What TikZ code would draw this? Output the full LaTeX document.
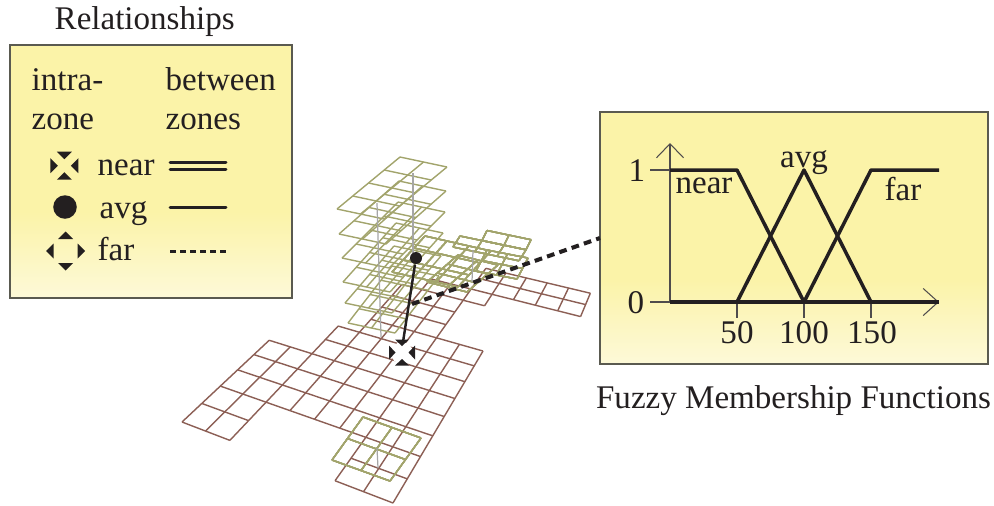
\documentclass[tikz,border=0pt]{standalone}
\usepackage{fontspec}
\setmainfont{Liberation Serif}
\usetikzlibrary{arrows.meta}
\definecolor{panelyellow}{HTML}{FBF3A8}
\definecolor{panelpale}{HTML}{FDF9D8}
\definecolor{panelborder}{HTML}{5A5A50}
\definecolor{floorbrown}{HTML}{8C5F55}
\definecolor{zonegreen}{HTML}{A2A46C}
\definecolor{inkblack}{HTML}{231F20}
\pgfdeclareverticalshading{panelfade}{100bp}{color(0bp)=(panelpale); color(25bp)=(panelpale); color(42bp)=(panelyellow); color(75bp)=(panelyellow); color(100bp)=(panelyellow)}
\tikzset{
  declare function={
    hd(\i,\j)=1-0.014956*\i+0.035238*\j;
    hx(\i,\j)=(20.4975*\i+26.924*\j+182)/hd(\i,\j);
    hy(\i,\j)=(2.6025*\i-4.359*\j+422)/hd(\i,\j);
  },
  panelbox/.style={rectangle, draw=panelborder, line width=0.5pt, inner sep=0pt, shade, shading=panelfade, shading angle=0},
  tag/.style={inner sep=0pt, text=inkblack, font=\fontsize{9.4}{11}\selectfont},
  floorline/.style={floorbrown, line width=0.4pt},
  zoneline/.style={zonegreen, line width=0.4pt},
  postline/.style={gray!70, line width=0.35pt},
  curveline/.style={inkblack, line width=1pt, line join=round},
  axisline/.style={inkblack!80, line width=0.3pt},
  legendline/.style={inkblack, line width=0.85pt, line cap=round}
}
% ox oy ux uy vx vy ni nj
\newcommand{\zoneplane}[8]{%
  \foreach \i in {0,...,#7}
    \draw[zoneline] (#1+\i*#3, #2+\i*#4) -- (#1+\i*#3+#8*#5, #2+\i*#4+#8*#6);
  \foreach \j in {0,...,#8}
    \draw[zoneline] (#1+\j*#5, #2+\j*#6) -- (#1+\j*#5+#7*#3, #2+\j*#6+#7*#4);
}
% x y base apex halfwidth
\newcommand{\markpart}[5]{%
  \foreach \a in {0,90,180,270}
    \fill[inkblack, shift={(#1,#2)}, rotate=\a] (-#5,#3) -- (#5,#3) -- (0,#4) -- cycle;
}
\begin{document}
\begin{tikzpicture}[x=0.01cm, y=-0.01cm]
  \useasboundingbox (0,0) rectangle (994,505);
  % Planta inferior
  \foreach \j/\a/\b in {0/0/2,0/6/8,1/0/2,1/6/8,2/0/8,3/0/8,4/0/8,5/0/8,6/2/8,7/2/8,8/3/8,9/3/6,10/3/6,11/3/7,12/4/11,13/6/11,14/6/11}
    \draw[floorline] ({hx(\a,\j)},{hy(\a,\j)}) -- ({hx(\b,\j)},{hy(\b,\j)});
  \foreach \i/\a/\b in {0/0/5,1/0/5,2/0/7,3/2/11,4/2/12,5/2/12,6/0/14,7/0/8,7/11/14,8/0/8,8/12/14,9/12/14,10/12/14,11/12/14}
    \draw[floorline] ({hx(\i,\a)},{hy(\i,\a)}) -- ({hx(\i,\b)},{hy(\i,\b)});
  % Zonas superiores
  \foreach \x/\y/\vx/\vy in {337/209/15.75/-13, 339/234/15/-13.25, 342/258/14/-14, 343/282/13.25/-14.75, 345/303/12.25/-14.25, 348/323/11/-14.25}
    \zoneplane{\x}{\y}{23.5}{5}{\vx}{\vy}{2}{4}
  \zoneplane{392}{272}{22}{5}{11}{-12}{3}{3}
  \zoneplane{427}{282}{20}{5}{10.3}{-9}{2}{3}
  \zoneplane{453}{247}{22}{4.6}{7}{-11}{3}{1}
  \zoneplane{482}{240.5}{22}{4.6}{5}{-10}{2}{1}
  \zoneplane{476}{271}{20.5}{4}{5.5}{-10.5}{2}{2}
  \zoneplane{332}{460}{29}{10.5}{15.5}{-21.5}{2}{2}
  % Postes
  \coordinate (postatop) at (377,203);
  \coordinate (postabot) at (381,337);
  \coordinate (postbtop) at (473,250);
  \coordinate (postbbot) at (472,282);
  \coordinate (postctop) at (377,448);
  \coordinate (postcbot) at (378,468);
  \coordinate (postdtop) at (413,173);
  \coordinate (postdbot) at (413,253);
  \draw[postline] (postatop) -- (postabot);
  \draw[postline] (postbtop) -- (postbbot);
  \draw[postline] (postctop) -- (postcbot);
  \draw[postline] (postdtop) -- (postdbot);
  % Paneles
  \node[panelbox, minimum width=2.82cm, minimum height=2.53cm] (legendbox) at (151,171.5) {};
  \node[panelbox, minimum width=3.88cm, minimum height=2.52cm] (fuzzybox) at (794,238) {};
  % Enlaces
  \coordinate (dashstart) at (412,304);
  \coordinate (dashend) at (600,238);
  \coordinate (arrowend) at (403,342);
  \fill[white] (402,353) circle (11);
  \node[circle, fill=inkblack, inner sep=0pt, minimum size=0.12cm] (zonedot) at (416,258) {};
  \draw[inkblack, line width=0.7pt] (zonedot) -- (arrowend);
  \draw[inkblack, line width=1.15pt, dash pattern=on 2.2pt off 1.5pt] (dashstart) -- (dashend);
  \markpart{402}{352.5}{-13}{-6.5}{7}
  % Leyenda
  \node[tag, anchor=base west] (reltitle) at (54,29) {Relationships};
  \node[tag, anchor=base west] (intralabel) at (31,90) {intra-};
  \node[tag, anchor=base west] (zonelabel) at (31,129) {zone};
  \node[tag, anchor=base west] (betweenlabel) at (165,90) {between};
  \node[tag, anchor=base west] (zoneslabel) at (165,129) {zones};
  \node[tag, anchor=base west] (nearlabel) at (97,175) {near};
  \node[tag, anchor=base west] (avglabel) at (99,218) {avg};
  \node[tag, anchor=base west] (farlabel) at (97,260) {far};
  \markpart{64.3}{165.7}{-14}{-6.5}{7.5}
  \node[circle, fill=inkblack, inner sep=0pt, minimum size=0.235cm] (avgmark) at (65,207) {};
  \markpart{65.7}{251}{-12}{-19.5}{7.5}
  \draw[legendline] (170,162.5) -- (226,162.5);
  \draw[legendline] (170,169) -- (226,169);
  \draw[legendline] (170,207) -- (226,207);
  \draw[legendline, line cap=butt, dash pattern=on 1.7pt off 1.15pt] (170,251) -- (226,251);
  % Funciones
  \coordinate (origin) at (670,302);
  \coordinate (ytip) at (670,143);
  \coordinate (xtip) at (939,302);
  \draw[axisline, -{Straight Barb[length=0.14cm, width=0.27cm]}] (origin) -- (ytip);
  \draw[axisline, -{Straight Barb[length=0.15cm, width=0.27cm]}] (origin) -- (xtip);
  \draw[axisline] (650,170) -- (670,170);
  \draw[axisline] (650,302) -- (670,302);
  \foreach \x in {737,804,871}
    \draw[axisline] (\x,302) -- (\x,318);
  \draw[curveline] (origin) -- (xtip);
  \draw[curveline] (670,170) -- (737,170) -- (804,302);
  \draw[curveline] (737,302) -- (804,170) -- (871,302);
  \draw[curveline] (804,302) -- (871,170) -- (939,170);
  \node[tag, anchor=base] (onelabel) at (637,181) {1};
  \node[tag, anchor=base] (zerolabel) at (636,313) {0};
  \node[tag, anchor=base] (nearcurve) at (704,193) {near};
  \node[tag, anchor=base] (avgcurve) at (804,167) {avg};
  \node[tag, anchor=base] (farcurve) at (903,200) {far};
  \node[tag, anchor=base] (tickfifty) at (737,343) {50};
  \node[tag, anchor=base] (tickhundred) at (804,343) {100};
  \node[tag, anchor=base] (tickonefifty) at (872,343) {150};
  \node[tag, anchor=base] (fuzzytitle) at (793.5,408) {Fuzzy Membership Functions};
\end{tikzpicture}
\end{document}
